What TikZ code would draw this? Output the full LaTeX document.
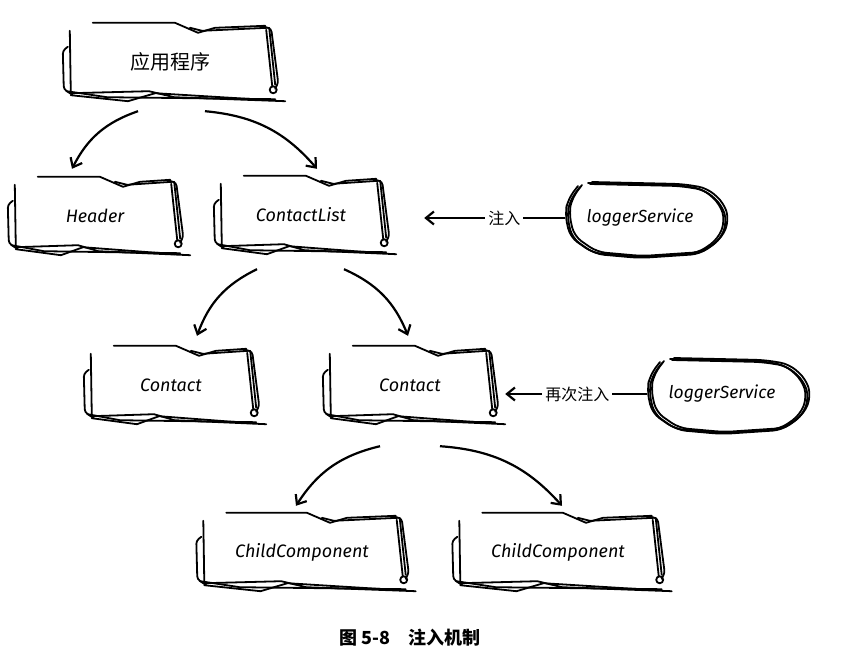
\documentclass[tikz,border=0pt]{standalone}
\usepackage{fontspec}
\setmainfont{Fira Sans}
\newfontfamily\cjk{Noto Sans CJK SC}
\usepackage{tikz}
\usetikzlibrary{positioning,calc,arrows.meta}

\tikzset{
  sketch/.style={line width=1.8pt, line join=round, line cap=round},
  comp/.style={minimum width=170pt, minimum height=78pt, inner sep=0pt, font=\itshape\fontsize{18}{20}\selectfont},
  svc/.style={minimum width=150pt, minimum height=72pt, inner sep=0pt, font=\itshape\fontsize{17.5}{20}\selectfont},
  arr/.style={line width=2.2pt, -{Straight Barb[length=8pt,width=13pt]}},
  lbl/.style={fill=white, inner sep=3pt, font=\cjk\fontsize{16}{18}\selectfont},
}

\newcommand{\sketchframe}[1]{%
  \draw[sketch] ($(#1.north west)+(28,0)$) -- ($(#1.north)+(5,0)$) -- ($(#1.north)+(28,10)$) -- ($(#1.north)+(45,5)$) -- ($(#1.north east)+(-10,3)$);
  \draw[sketch] ($(#1.north)+(20,5)$) -- ($(#1.north)+(32,8)$) -- ($(#1.north east)+(-8,5)$);
  \draw[sketch, rounded corners=3pt] ($(#1.north east)+(-14,3)$) -- ($(#1.north east)+(-4,6)$) -- ($(#1.north east)+(3,60)$) -- ($(#1.north east)+(0,66)$);
  \draw[sketch] ($(#1.north east)+(-9,7)$) -- ($(#1.north east)+(-3,63)$);
  \draw[sketch] ($(#1.north east)+(-6,5)$) -- ($(#1.north east)+(0,62)$);
  \draw[sketch] ($(#1.north east)+(-2,67)$) circle (3.5pt);
  \draw[sketch] ($(#1.north west)+(5,8)$) -- ($(#1.south west)+(6,-8)$);
  \draw[sketch, rounded corners=3pt] ($(#1.north west)+(3,24)$) -- ($(#1.north west)+(-2,28)$) -- ($(#1.south west)+(-1,-12)$) -- ($(#1.south west)+(8,-6)$);
  \draw[sketch] ($(#1.south west)+(6,-8)$) -- ($(#1.south west)!0.4!(#1.south east)+(0,-10)$) -- ($(#1.south west)!0.52!(#1.south east)+(0,-4)$) -- ($(#1.south east)+(10,0)$);
  \draw[sketch] ($(#1.south west)+(6,-6)$) -- ($(#1.south west)!0.3!(#1.south east)+(0,0)$) -- ($(#1.south west)!0.43!(#1.south east)+(0,-8)$) -- ($(#1.south east)+(-5,-1)$);
  \draw[sketch] ($(#1.south west)+(2,-10)$) -- ($(#1.south west)!0.2!(#1.south east)+(0,-4)$) -- ($(#1.south east)+(0,-2)$);
}

\newcommand{\sketchblob}[1]{%
  \begin{scope}[shift={(#1.center)}]
    \foreach \dx/\dy in {0/0, 2/2, -2/1}{
      \draw[sketch, rounded corners=9pt, xshift=\dx, yshift=\dy] (-60,-31) -- (-70,-18) -- (-73,-3) -- (-68,20) -- (-45,36) -- (0,40) -- (60,36) -- (80,22) -- (87,4) -- (82,-13) -- (65,-28) -- (40,-32) -- (-50,-34);
    }
  \end{scope}}

\begin{document}
\begin{tikzpicture}[x=1pt, y=-1pt]
\useasboundingbox (0,0) rectangle (855,656);

\node[comp, minimum width=210pt] (app) at (170,62) {\cjk\upshape\fontsize{20}{22}\selectfont 应用程序};
\node[comp] (hdr) at (95,216) {Header};
\node[comp] (clist) at (301,215) {ContactList};
\node[comp] (ct1) at (171,385) {Contact};
\node[comp] (ct2) at (410,385) {Contact};
\node[comp, minimum width=207pt] (cc1) at (302,552) {ChildComponent};
\node[comp, minimum width=207pt] (cc2) at (558,552) {ChildComponent};
\node[svc] (log1) at (640,218) {loggerService};
\node[svc] (log2) at (722,394) {loggerService};

\sketchframe{app}
\sketchframe{hdr}
\sketchframe{clist}
\sketchframe{ct1}
\sketchframe{ct2}
\sketchframe{cc1}
\sketchframe{cc2}
\sketchblob{log1}
\sketchblob{log2}

\draw[arr] ([shift={(-32,10)}]app.south) to[bend right=22] ([shift={(-23,-8)}]hdr.north);
\draw[arr] ([shift={(35,10)}]app.south) to[bend left=22] ([shift={(16,-7)}]clist.north);
\draw[arr] ([shift={(-44,15)}]clist.south) to[bend right=22] ([shift={(26,-10)}]ct1.north);
\draw[arr] ([shift={(43,15)}]clist.south) to[bend left=22] ([shift={(-2,-10)}]ct2.north);
\draw[arr] ([shift={(-30,22)}]ct2.south) to[bend right=22] ([shift={(-6,-7)}]cc1.north);
\draw[arr] ([shift={(30,22)}]ct2.south) to[bend left=22] ([shift={(4,-7)}]cc2.north);

\draw[arr] (log1.west) -- node[lbl, pos=0.43] {注入} ([xshift=38]log1.west -| clist.east);
\draw[arr] (log2.west) -- node[lbl, pos=0.49] {再次注入} ([xshift=10]log2.west -| ct2.east);

\node[font=\cjk\bfseries\fontsize{18}{20}\selectfont] (cap) at (410,638) {图 5-8\quad 注入机制};
\end{tikzpicture}
\end{document}
